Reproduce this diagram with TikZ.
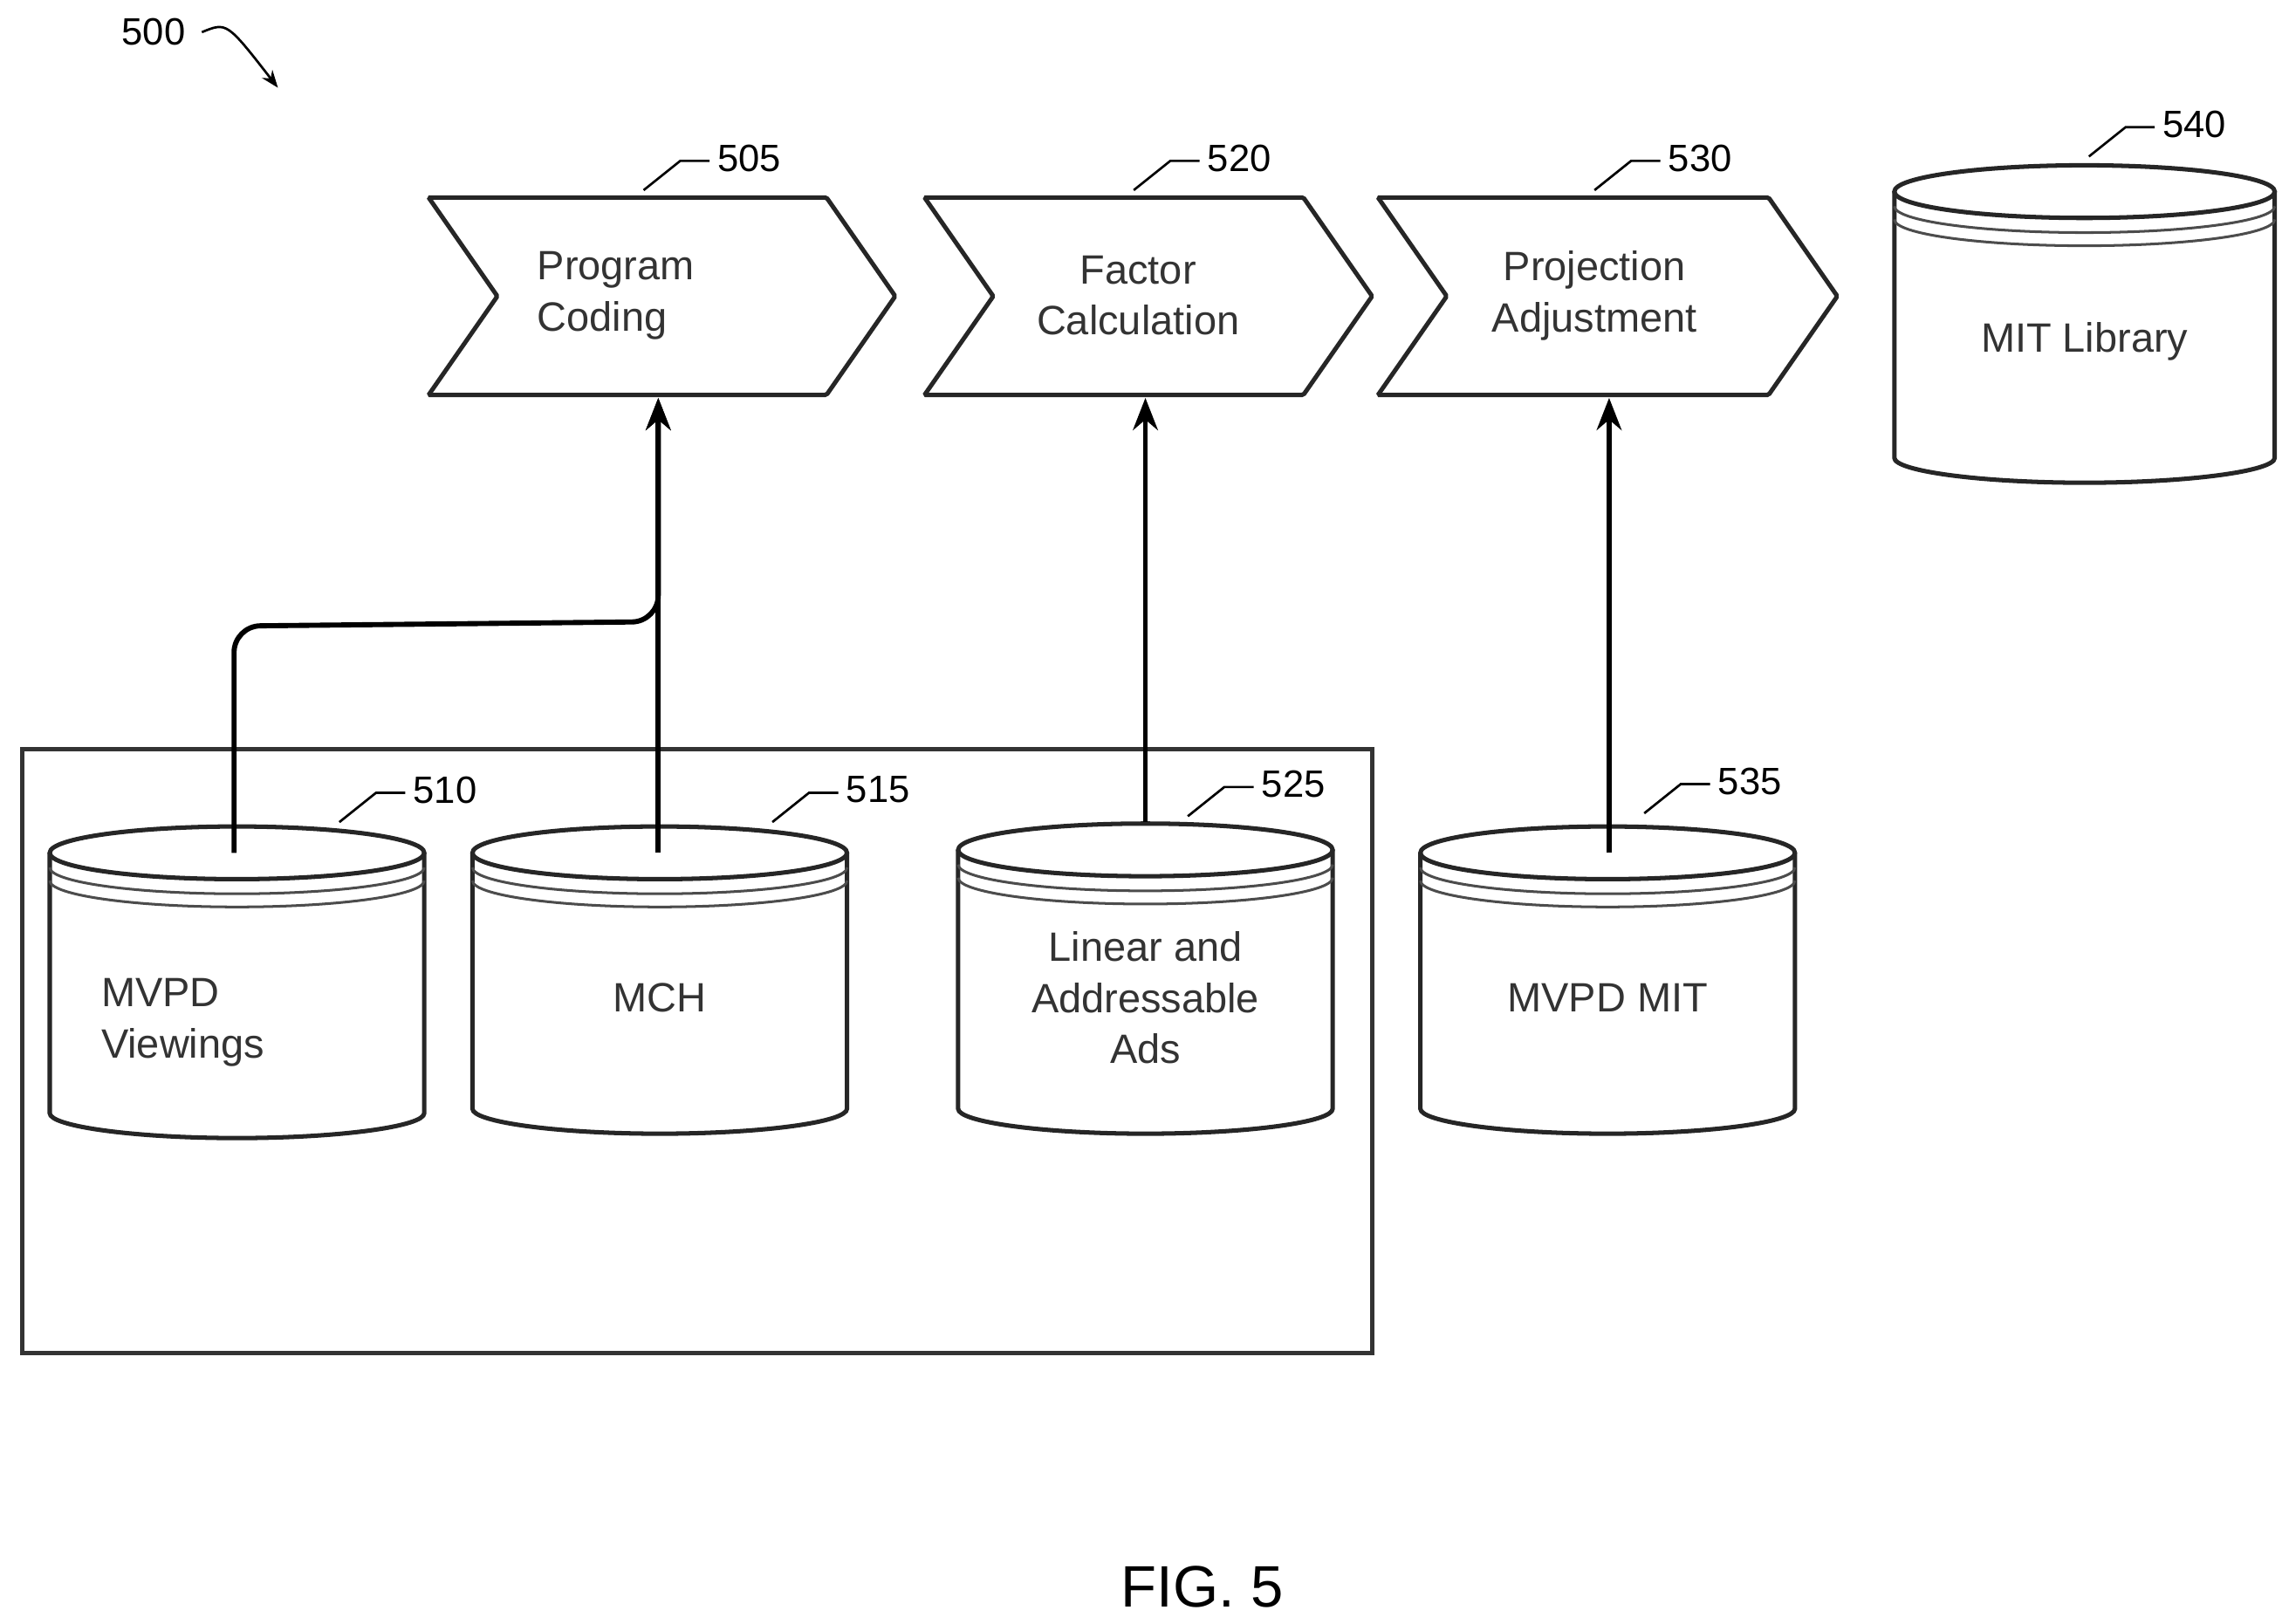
\documentclass[tikz,border=0pt]{standalone}
\usepackage{fontspec}
\setmainfont{Liberation Sans}
\usetikzlibrary{arrows.meta}
\newcommand\dbcyl[6]{% name, cx, top, bottom, rx, text
  \draw[shape line] (#2-#5,#3+18) -- (#2-#5,#4-18) arc[start angle=180,end angle=360,x radius=#5,y radius=-18] -- (#2+#5,#3+18);
  \draw[shape line] (#2,#3+18) ellipse[x radius=#5,y radius=18];
  \draw[thin line] (#2-#5,#3+28) arc[start angle=180,end angle=360,x radius=#5,y radius=-18];
  \draw[thin line] (#2-#5,#3+37) arc[start angle=180,end angle=360,x radius=#5,y radius=-18];
  \node[lbl] (#1) at (#2,{(#3+#4)/2+12}) {#6};
}
\newcommand\chev[5]{% name, left, right, top, bottom
  \draw[shape line] (#2,#4) -- (#3-47,#4) -- (#3,{(#4+#5)/2}) -- (#3-47,#5) -- (#2,#5) -- (#2+47,{(#4+#5)/2}) -- cycle;
}
\begin{document}
\begin{tikzpicture}[x=1pt,y=-1pt,
  shape line/.style={line width=3pt,draw=black!85,rounded corners=1pt},
  thin line/.style={line width=1.8pt,draw=black!70},
  lbl/.style={font=\fontsize{28}{35}\selectfont,text=black!80,align=center},
  ref/.style={font=\fontsize{26}{28}\selectfont,text=black},
  lead/.style={line width=1.6pt},
  arr/.style={line width=3.5pt,-{Stealth[length=22pt,width=17pt]}}]
\useasboundingbox (0,0) rectangle (1560,1110);
\draw[line width=3pt,draw=black!80] (15,512) rectangle (938,925);
\chev{c505}{293}{612}{135}{270}
\node[lbl,align=left] (c505) at (421,202) {Program\\Coding};
\chev{c520}{632}{938}{135}{270}
\node[lbl] (c520) at (778,202) {Factor\\Calculation};
\chev{c530}{942}{1256}{135}{270}
\node[lbl] (c530) at (1090,202) {Projection\\Adjustment};
\dbcyl{d510}{162}{565}{778}{128}{}
\node[lbl,align=left] (d510) at (125,699) {MVPD\\Viewings};
\dbcyl{d515}{451}{565}{775}{128}{MCH}
\dbcyl{d525}{783}{563}{775}{128}{}
\node[lbl] (d525t) at (783,682) {Linear and\\Addressable\\Ads};
\dbcyl{d535}{1099}{565}{775}{128}{MVPD MIT}
\dbcyl{d540}{1425}{113}{330}{130}{MIT Library}
\coordinate (s510) at (160,583);
\coordinate (s515) at (450,583);
\coordinate (s525) at (783,562);
\coordinate (s535) at (1100,583);
\coordinate (t505) at (450,272);
\coordinate (t520) at (783,272);
\coordinate (t530) at (1100,272);
\draw[arr,rounded corners=18pt] (s510) -- (160,428) -- (450,425) -- (t505);
\draw[arr] (s515) -- (t505);
\draw[arr] (s525) -- (t520);
\draw[arr] (s535) -- (t530);
\foreach \n/\x/\y in {505/440/130,520/775/130,530/1090/130,540/1428/107,510/232/562,515/528/562,525/812/558,535/1124/556}{
  \draw[lead] (\x,\y) -- (\x+25,\y-20) -- (\x+45,\y-20);
  \node[ref,anchor=west] (r\n) at (\x+47,\y-22) {\n};
}
\node[ref] (r500) at (105,22) {500};
\coordinate (a500) at (190,60);
\draw[lead,-{Stealth[length=12pt,width=9pt]}] (138,22) .. controls (155,15) .. (a500);
\node[font=\fontsize{40}{44}\selectfont] (fig) at (822,1085) {FIG. 5};
\end{tikzpicture}
\end{document}
